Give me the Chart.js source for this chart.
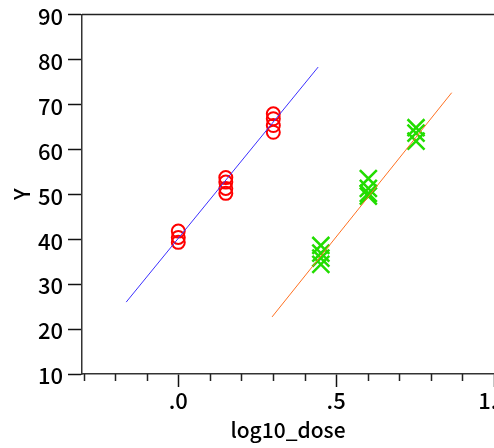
<!DOCTYPE html>
<html>
<head>
<meta charset="utf-8">
<script src="https://cdn.jsdelivr.net/npm/chart.js@4/dist/chart.umd.min.js"></script>
<style>
  html, body { margin: 0; padding: 0; background: #fff; }
  #wrap { position: relative; width: 494px; height: 448px; overflow: hidden; }
  #c { position: absolute; left: 0; top: 0; }
</style>
</head>
<body>
<div id="wrap"><canvas id="c" width="540" height="448"></canvas></div>
<script>
// ---- data ----
const redX   = [0, 0, 0, 0.1505, 0.1505, 0.1505, 0.1505, 0.301, 0.301, 0.301, 0.301];
const redY   = [41.8, 40.4, 39.3, 53.7, 52.7, 51.3, 50.2, 67.9, 66.8, 65.3, 63.8];
const greenX = [0.4515, 0.4515, 0.4515, 0.4515, 0.602, 0.602, 0.602, 0.602, 0.753, 0.753, 0.753];
const greenY = [38.6, 36.9, 35.8, 34.4, 53.5, 51.3, 50.2, 49.6, 64.8, 63.6, 61.8];
const blueLineX = [-0.165, 0.443];
const blueLineY = [26.0, 78.3];
const orangeLineX = [0.297, 0.866];
const orangeLineY = [22.7, 72.6];
const xMajorTicks = [0, 0.5, 1.0];
const xMajorLabels = ['.0', '.5', '1.0'];
const xMinorTicks = [-0.3, -0.2, -0.1, 0.1, 0.2, 0.3, 0.4, 0.6, 0.7, 0.8, 0.9];
const yTicks = [10, 20, 30, 40, 50, 60, 70, 80, 90];
const xTitle = 'log10_dose';
const yTitle = 'Y';

const pts = (xs, ys) => xs.map((v, i) => ({ x: v, y: ys[i] }));

Chart.defaults.font.family = '"Noto Sans CJK JP", "Liberation Sans", sans-serif';
Chart.defaults.font.weight = '500';
Chart.defaults.color = '#000';

const decor = {
  id: 'decor',
  afterDraw(chart) {
    const { ctx, chartArea: a, scales: { x } } = chart;
    ctx.save();
    ctx.strokeStyle = '#222';
    ctx.lineWidth = 1.5;
    ctx.beginPath();
    ctx.moveTo(a.left, a.top);
    ctx.lineTo(a.right + 20, a.top);
    xMinorTicks.forEach(v => {
      const px = Math.round(x.getPixelForValue(v)) + 0.5;
      ctx.moveTo(px, a.bottom);
      ctx.lineTo(px, a.bottom + 7);
    });
    ctx.stroke();
    ctx.restore();
  }
};

new Chart(document.getElementById('c'), {
  type: 'scatter',
  data: {
    datasets: [
      { data: pts(blueLineX, blueLineY), showLine: true, borderColor: '#3b2fff', borderWidth: 1, pointRadius: 0, fill: false },
      { data: pts(orangeLineX, orangeLineY), showLine: true, borderColor: '#ff7020', borderWidth: 1, pointRadius: 0, fill: false },
      { data: pts(redX, redY), pointStyle: 'circle', pointRadius: 6.5, borderWidth: 2, borderColor: '#ff0000', backgroundColor: 'rgba(0,0,0,0)' },
      { data: pts(greenX, greenY), pointStyle: 'crossRot', pointRadius: 12, borderWidth: 2.5, borderColor: '#22dd00', backgroundColor: '#22dd00' }
    ]
  },
  options: {
    responsive: false,
    animation: false,
    events: [],
    layout: { padding: { top: 14, right: 46, left: 0, bottom: 0 } },
    plugins: { legend: { display: false }, tooltip: { enabled: false } },
    scales: {
      x: {
        type: 'linear', min: -0.305, max: 1.0,
        afterBuildTicks: s => { s.ticks = xMajorTicks.map(v => ({ value: v })); },
        afterFit: s => { s.height = 74; },
        ticks: {
          font: { size: 22 }, padding: 0, maxRotation: 0, autoSkip: false,
          callback: (v) => { const i = xMajorTicks.indexOf(v); return i >= 0 ? xMajorLabels[i] : ''; }
        },
        grid: { drawOnChartArea: false, drawTicks: true, tickLength: 13, tickColor: '#111', tickWidth: 1.5 },
        border: { display: true, color: '#333', width: 1.5 },
        title: { display: true, text: xTitle, font: { size: 21 }, padding: { top: 0, bottom: 5 } }
      },
      y: {
        type: 'linear', min: 10, max: 90,
        afterBuildTicks: s => { s.ticks = yTicks.map(v => ({ value: v })); },
        afterFit: s => { s.width = 82; },
        ticks: { font: { size: 22, lineHeight: 0.8 }, padding: 5, autoSkip: false, labelOffset: 2 },
        grid: { drawOnChartArea: false, drawTicks: true, tickLength: 14, tickColor: '#111', tickWidth: 1.5 },
        border: { display: true, color: '#333', width: 1.5 },
        title: { display: true, text: yTitle, font: { size: 21 }, padding: { top: 9, bottom: 0 } }
      }
    }
  },
  plugins: [decor]
});
</script>
</body>
</html>
